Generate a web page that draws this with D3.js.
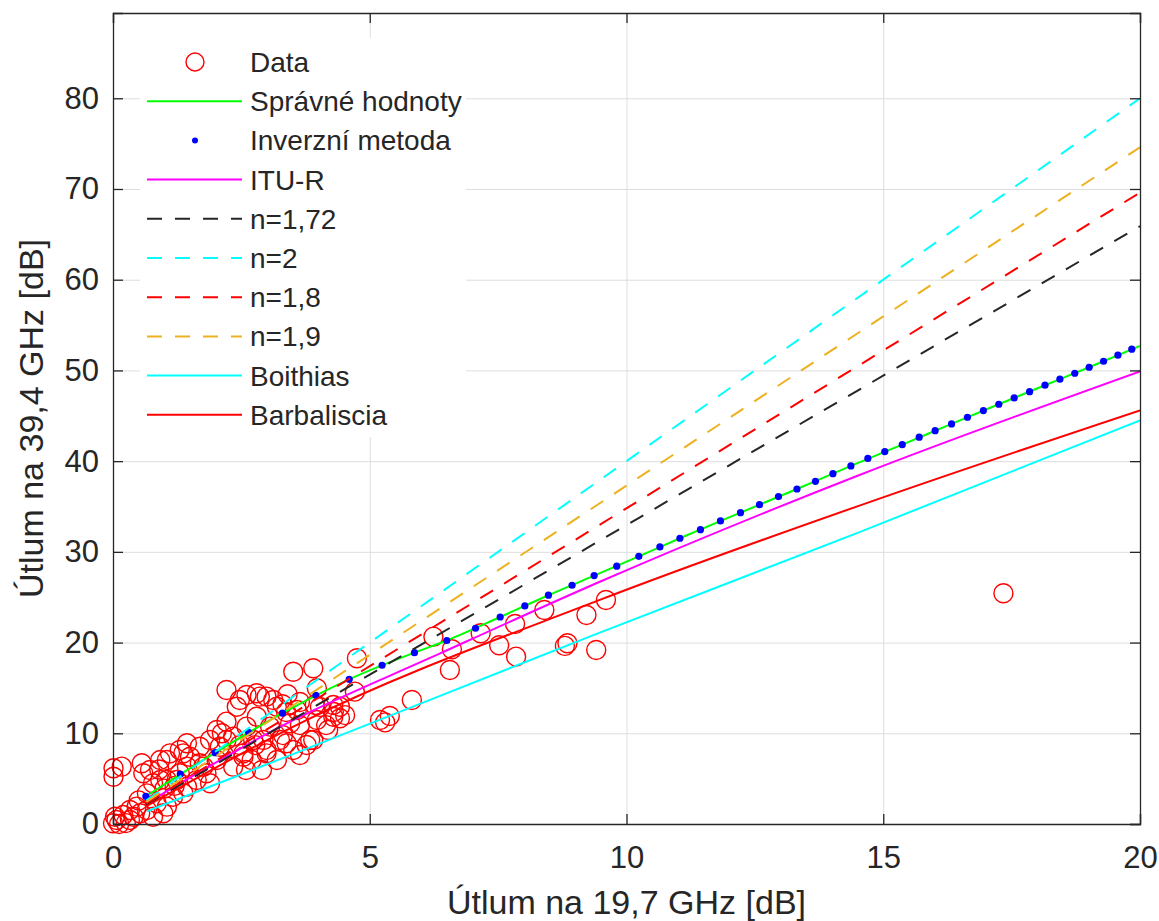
<!DOCTYPE html>
<html>
<head>
<meta charset="utf-8">
<script src="https://cdn.jsdelivr.net/npm/d3@7"></script>
<style>
    body { margin: 0; background: #fff; }
    text { font-family: "Liberation Sans", Arial, Helvetica, sans-serif; fill: #262626; }
</style>
</head>
<body>
<div id="chart"></div>
<script>
// measured points (attenuation 19.7 GHz vs 39.4 GHz)
var dataX = [17.34, 9.60, 9.22, 9.41, 8.85, 8.80, 8.40, 7.83, 7.85, 7.52, 7.16, 6.60, 6.56, 6.24, 5.82, 5.39, 5.20, 5.30,
    4.75, 4.71, 4.42, 3.97, 3.90, 3.51, 3.77, 4.19, 3.90, 2.21, 2.60, 2.80, 2.99, 3.12, 2.41, 2.21, 2.12, 2.34, 2.60,
    2.80, 3.06, 3.19, 2.93, 2.54, 2.34, 2.70, 2.99, 3.25, 3.45, 3.51, 0.01, 0.17, 0.01, 0.56, 0.72, 0.92, 1.11, 1.30,
    1.44, 1.50, 1.69, 1.82, 1.89, 1.63, 1.30, 1.05, 0.78, 0.66, 0.85, 1.05, 1.17, 1.37, 0.66, 0.78, 0.53, 1.44, 2.02,
    2.08, 1.69, 1.89, 0.00, 0.07, 0.20, 0.33, 0.46, 0.12, 0.33, 0.25, 0.40, 0.04, 3.64, 4.03, 4.30, 4.52, 4.15, 3.64,
    3.37, 3.31, 3.64, 2.77, 2.47, 3.19, 2.90, 2.59, 3.40, 3.30, 0.90, 1.00, 1.20, 0.50,
    4.29, 3.93, 3.58, 3.97, 4.29, 4.42, 3.84, 3.38, 2.99, 2.54, 2.21, 2.73, 2.47, 2.86, 2.02, 1.37, 1.05, 0.59, 0.92,
    1.24, 1.76, 1.44, 0.98];
var dataY = [25.44, 24.70, 23.04, 19.18, 19.92, 19.63, 23.59, 22.05, 18.45, 19.70, 21.03, 19.26, 16.98, 20.65, 13.67, 11.91, 11.47, 11.20,
    18.27, 14.59, 11.65, 14.96, 17.17, 16.79, 8.71, 10.36, 9.26, 14.77, 14.22, 14.41, 14.04, 13.67, 12.93, 11.28, 10.00, 9.63, 10.73,
    11.83, 10.73, 12.93, 9.26, 7.79, 6.32, 7.06, 7.79, 9.26, 11.10, 8.16, 6.14, 6.32, 5.21, 6.69, 5.95, 7.06, 7.79, 8.16,
    8.90, 7.42, 6.69, 5.59, 4.49, 4.85, 5.59, 4.85, 4.49, 3.38, 2.28, 1.91, 3.01, 3.38, 1.54, 0.80, 1.18, 6.32, 7.06,
    8.52, 8.52, 9.26, 0.08, 0.44, 0.99, 1.54, 1.91, 0.00, 0.44, 0.10, 0.80, 0.80, 13.45, 12.90, 12.35, 12.00, 10.90, 10.90,
    12.35, 9.80, 7.60, 8.70, 8.70, 7.06, 5.95, 5.95, 14.30, 13.20, 6.00, 3.90, 4.20, 2.60,
    13.12, 13.12, 12.57, 11.47, 11.83, 12.93, 9.26, 8.90, 8.16, 7.42, 9.26, 9.26, 13.67, 14.04, 10.36, 7.79, 7.06, 5.59, 4.85,
    4.85, 6.32, 4.11, 1.18];

// inverse method points
var dotX = [0.64, 1.31, 1.99, 2.64, 3.30, 3.95, 4.60, 5.24, 5.87, 6.50, 7.06, 7.54, 8.02, 8.48, 8.94, 9.37, 9.81,
    10.24, 10.65, 11.04, 11.44, 11.83, 12.22, 12.59, 12.96, 13.32, 13.68, 14.02, 14.37, 14.70, 15.03, 15.37, 15.70,
    16.01, 16.33, 16.64, 16.95, 17.25, 17.55, 17.85, 18.15, 18.44, 18.73, 19.01, 19.29, 19.57, 19.84];
var dotY = [3.05, 5.51, 7.86, 10.11, 12.22, 14.19, 15.95, 17.50, 18.89, 20.23, 21.58, 22.82, 24.04, 25.22, 26.32, 27.38, 28.42,
    29.51, 30.54, 31.50, 32.45, 33.41, 34.32, 35.20, 36.09, 36.93, 37.78, 38.62, 39.47, 40.30, 41.05, 41.82, 42.64,
    43.36, 44.10, 44.84, 45.57, 46.27, 46.97, 47.66, 48.37, 49.03, 49.69, 50.35, 51.01, 51.68, 52.34];

// correct values curve
var trueX = [0.64, 1.99, 3.30, 4.60, 5.87, 6.50, 7.54, 8.48, 9.37, 10.24, 11.04, 12.22, 13.32, 14.37, 15.37, 16.33, 17.25, 18.15, 19.01, 20];
var trueY = [3.05, 7.86, 12.22, 15.95, 18.89, 20.23, 22.82, 25.22, 27.38, 29.51, 31.50, 34.32, 36.93, 39.47, 41.82, 44.10, 46.27, 48.37, 50.35, 52.7];

var ituX = [0.66, 3.25, 6.37, 9.48, 14.55, 20];
var ituY = [2.3, 10.7, 18.8, 26.7, 38.5, 49.9];

var boiX = [0.66, 3.64, 9.48, 14.55, 20];
var boiY = [1.4, 8.0, 21.1, 32.2, 44.5];

var barX = [0.66, 3.64, 9.48, 14.94, 20];
var barY = [2.0, 11.1, 24.7, 35.9, 45.6];

var dashX = [0.65, 20];
var n172Y = [2.14, 65.9];
var n2Y = [2.6, 80];
var n18Y = [2.26, 69.6];
var n19Y = [2.43, 74.6];

var xTicks = [0, 5, 10, 15, 20];
var yTicks = [0, 10, 20, 30, 40, 50, 60, 70, 80];

var legendLabels = ["Data", "Správné hodnoty", "Inverzní metoda", "ITU-R", "n=1,72", "n=2", "n=1,8", "n=1,9", "Boithias", "Barbaliscia"];

var margin = { top: 13, right: 19, bottom: 97, left: 113 };
var width = 1159 - margin.left - margin.right;
var height = 921 - margin.top - margin.bottom;

var svg = d3.select("#chart")
    .append("svg")
    .attr("width", 1159)
    .attr("height", 921)
    .append("g")
    .attr("transform", "translate(" + margin.left + "," + margin.top + ")");

var x = d3.scaleLinear().domain([0, 20]).range([0, width]);
var y = d3.scaleLinear().domain([0, 89.4]).range([height, 0]);

// grid
svg.append("g")
    .attr("class", "grid")
    .attr("transform", "translate(0," + height + ")")
    .call(d3.axisBottom(x).tickValues(xTicks).tickSize(-height).tickFormat(""));
svg.append("g")
    .attr("class", "grid")
    .call(d3.axisLeft(y).tickValues(yTicks).tickSize(-width).tickFormat(""));
svg.selectAll(".grid line").attr("stroke", "#dedede").attr("stroke-width", 1);
svg.selectAll(".grid .domain").remove();

var clipId = "plotclip";
svg.append("clipPath").attr("id", clipId)
    .append("rect").attr("width", width).attr("height", height);

function zip(xs, ys) {
    return xs.map(function (d, i) { return [d, ys[i]]; });
}

var line = d3.line()
    .x(function (d) { return x(d[0]); })
    .y(function (d) { return y(d[1]); })
    .curve(d3.curveMonotoneX);

// data circles
svg.append("g")
    .selectAll("circle")
    .data(zip(dataX, dataY))
    .enter()
    .append("circle")
    .attr("cx", function (d) { return x(d[0]); })
    .attr("cy", function (d) { return y(d[1]); })
    .attr("r", 9.5)
    .attr("fill", "none")
    .attr("stroke", "#ff0000")
    .attr("stroke-width", 1.4);

var lines = svg.append("g").attr("clip-path", "url(#" + clipId + ")");

lines.append("path").datum(zip(trueX, trueY))
    .attr("d", line).attr("fill", "none").attr("stroke", "#00ff00").attr("stroke-width", 2);

lines.selectAll(".dot")
    .data(zip(dotX, dotY))
    .enter()
    .append("circle")
    .attr("class", "dot")
    .attr("cx", function (d) { return x(d[0]); })
    .attr("cy", function (d) { return y(d[1]); })
    .attr("r", 3.6)
    .attr("fill", "#0000ff");

var series = [
    { xs: ituX, ys: ituY, color: "#ff00ff", dash: null },
    { xs: dashX, ys: n172Y, color: "#262626", dash: "15,13" },
    { xs: dashX, ys: n2Y, color: "#00ffff", dash: "15,13" },
    { xs: dashX, ys: n18Y, color: "#ff0000", dash: "15,13" },
    { xs: dashX, ys: n19Y, color: "#edb120", dash: "15,13" },
    { xs: boiX, ys: boiY, color: "#00ffff", dash: null },
    { xs: barX, ys: barY, color: "#ff0000", dash: null }
];

series.forEach(function (s) {
    lines.append("path").datum(zip(s.xs, s.ys))
        .attr("d", line)
        .attr("fill", "none")
        .attr("stroke", s.color)
        .attr("stroke-width", 2)
        .attr("stroke-dasharray", s.dash);
});

// axes (ticks inward, box on)
var axisColor = "#262626";
var xAxis = svg.append("g")
    .attr("transform", "translate(0," + height + ")")
    .call(d3.axisBottom(x).tickValues(xTicks).tickSize(-10).tickPadding(22));
var yAxis = svg.append("g")
    .call(d3.axisLeft(y).tickValues(yTicks).tickSize(-10).tickPadding(14));
svg.append("g")
    .call(d3.axisTop(x).tickValues(xTicks).tickSize(-10).tickFormat(""));
svg.append("g")
    .attr("transform", "translate(" + width + ",0)")
    .call(d3.axisRight(y).tickValues(yTicks).tickSize(-10).tickFormat(""));

svg.selectAll(".domain").attr("stroke", axisColor).attr("stroke-width", 1.3);
svg.selectAll(".tick line").filter(function () { return !this.closest(".grid"); })
    .attr("stroke", axisColor).attr("stroke-width", 1.3);
svg.selectAll(".tick text").style("font-size", "31px").attr("fill", axisColor);
xAxis.selectAll(".tick text").attr("dy", "0.71em");

svg.append("text")
    .attr("x", width / 2)
    .attr("y", height + 90)
    .style("text-anchor", "middle")
    .style("font-size", "34px")
    .text("Útlum na 19,7 GHz [dB]");

svg.append("text")
    .attr("transform", "translate(" + (43 - margin.left) + "," + (height / 2) + ") rotate(-90)")
    .style("text-anchor", "middle")
    .style("font-size", "34px")
    .text("Útlum na 39,4 GHz [dB]");

// legend (white background, no outline)
var legend = svg.append("g").attr("transform", "translate(" + (147 - margin.left) + "," + (62 - margin.top) + ")");
legend.append("rect")
    .attr("x", -7).attr("y", -24)
    .attr("width", 326).attr("height", 399)
    .attr("fill", "#fff");

var legendStyles = [
    { type: "circle", color: "#ff0000" },
    { type: "line", color: "#00ff00", dash: null },
    { type: "dot", color: "#0000ff" },
    { type: "line", color: "#ff00ff", dash: null },
    { type: "line", color: "#262626", dash: "15,13" },
    { type: "line", color: "#00ffff", dash: "15,13" },
    { type: "line", color: "#ff0000", dash: "15,13" },
    { type: "line", color: "#edb120", dash: "15,13" },
    { type: "line", color: "#00ffff", dash: null },
    { type: "line", color: "#ff0000", dash: null }
];

legendLabels.forEach(function (label, i) {
    var g = legend.append("g").attr("transform", "translate(0," + (i * 39.2) + ")");
    var st = legendStyles[i];
    if (st.type === "circle") {
        g.append("circle").attr("cx", 48).attr("cy", 0).attr("r", 9)
            .attr("fill", "none").attr("stroke", st.color).attr("stroke-width", 1.4);
    } else if (st.type === "dot") {
        g.append("circle").attr("cx", 48).attr("cy", 0).attr("r", 3).attr("fill", st.color);
    } else {
        g.append("line").attr("x1", 0).attr("x2", 95).attr("y1", 0).attr("y2", 0)
            .attr("stroke", st.color).attr("stroke-width", 2)
            .attr("stroke-dasharray", st.dash);
    }
    g.append("text").attr("x", 103).attr("y", 10)
        .style("font-size", "28px")
        .text(label);
});
</script>
</body>
</html>
